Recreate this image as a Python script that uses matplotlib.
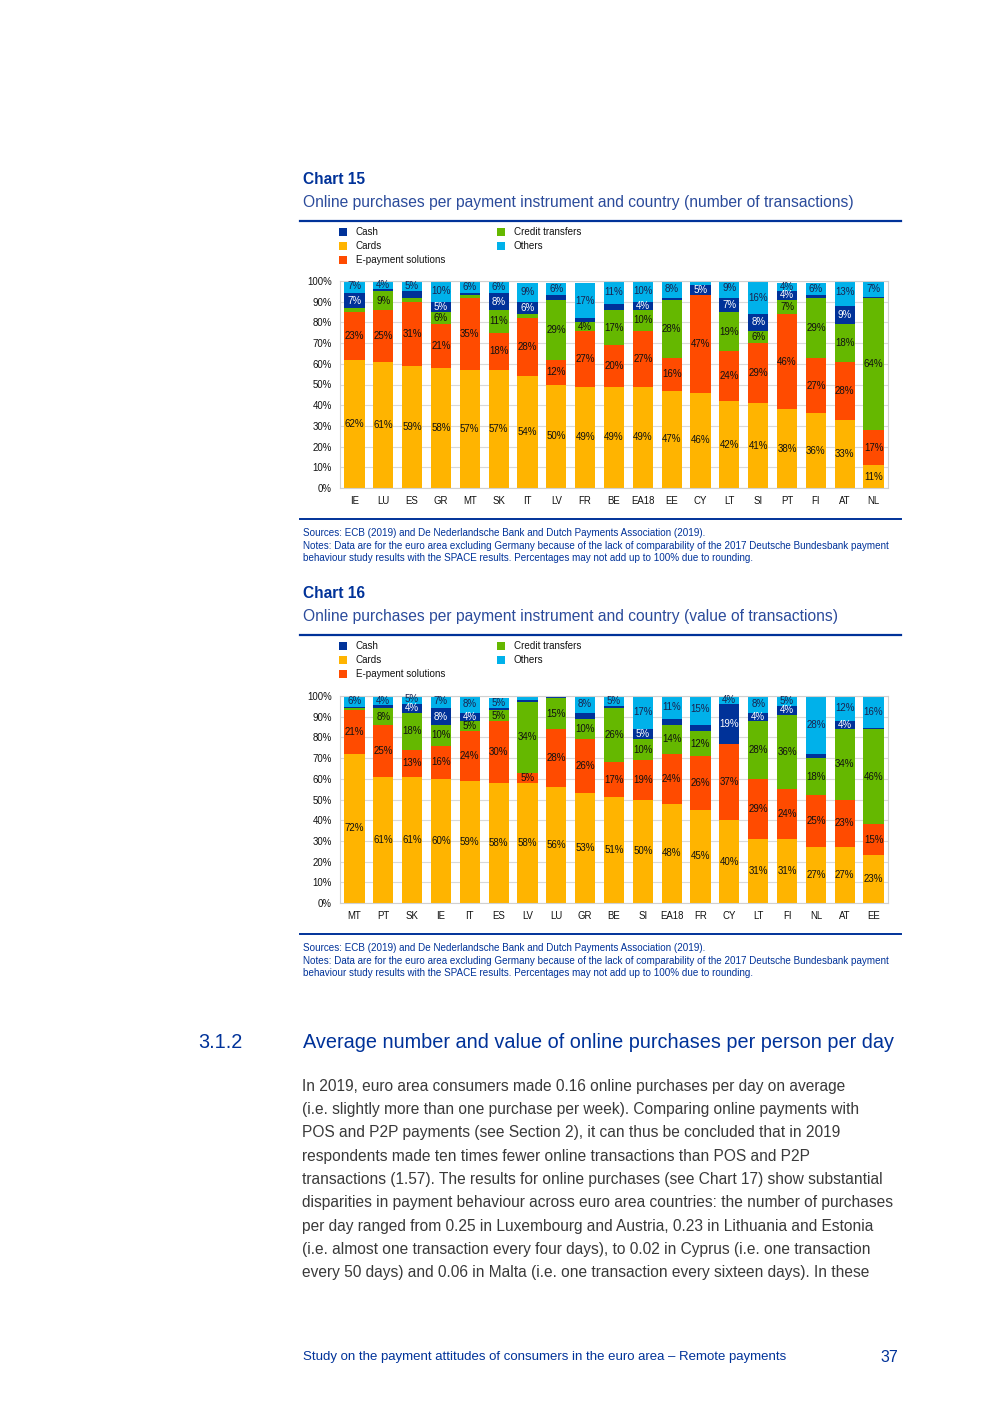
import matplotlib
matplotlib.use("Agg")
import matplotlib.pyplot as plt
from matplotlib.patches import Rectangle
from matplotlib.lines import Line2D
import numpy as np

plt.rcParams['font.family'] = ['Liberation Sans', 'DejaVu Sans']

W, H = 992, 1403

# ---------------- data ----------------
series = ["Cards", "E-payment solutions", "Credit transfers", "Cash", "Others"]
colors = {"Cash": "#003299", "Cards": "#FFB400", "E-payment solutions": "#FF4B00",
          "Credit transfers": "#65B800", "Others": "#00B1EA"}

c15_countries = ["IE", "LU", "ES", "GR", "MT", "SK", "IT", "LV", "FR", "BE",
                 "EA18", "EE", "CY", "LT", "SI", "PT", "FI", "AT", "NL"]
c15_cards  = [62, 61, 59, 58, 57, 57, 54, 50, 49, 49, 49, 47, 46, 42, 41, 38, 36, 33, 11]
c15_epay   = [23, 25, 31, 21, 35, 18, 28, 12, 27, 20, 27, 16, 47, 24, 29, 46, 27, 28, 17]
c15_ct     = [2, 9, 2, 6, 1, 11, 2, 29, 4, 17, 10, 28, 0, 19, 6, 7, 29, 18, 64]
c15_cash   = [7, 1, 3, 5, 1, 8, 6, 2, 2, 3, 4, 1, 5, 7, 8, 4, 1, 9, 0.5]
c15_others = [7, 4, 5, 10, 6, 6, 9, 6, 17, 11, 10, 8, 2, 9, 16, 4, 6, 13, 7]

c16_countries = ["MT", "PT", "SK", "IE", "IT", "ES", "LV", "LU", "GR", "BE",
                 "SI", "EA18", "FR", "CY", "LT", "FI", "NL", "AT", "EE"]
c16_cards  = [72, 61, 61, 60, 59, 58, 58, 56, 53, 51, 50, 48, 45, 40, 31, 31, 27, 27, 23]
c16_epay   = [21, 25, 13, 16, 24, 30, 5, 28, 26, 17, 19, 24, 26, 37, 29, 24, 25, 23, 15]
c16_ct     = [1, 8, 18, 10, 5, 5, 34, 15, 10, 26, 10, 14, 12, 0, 28, 36, 18, 34, 46]
c16_cash   = [0.5, 1.5, 4, 8, 4, 1, 1, 0.5, 3, 1, 5, 3, 3, 19, 4, 4, 2, 4, 0.5]
c16_others = [6, 4, 5, 7, 8, 5, 3, 1.5, 8, 5, 17, 11, 15, 4, 8, 5, 28, 12, 16]

yticks = [0, 10, 20, 30, 40, 50, 60, 70, 80, 90, 100]
ytick_labels = [f"{v}%" for v in yticks]

navy = "#003299"
sub_blue = "#2b4b9b"
text_dark = "#3a3a3a"

fig = plt.figure(figsize=(W / 100, H / 100), dpi=100)


def fx(x):
    return x / W


def fy(y):
    return 1 - y / H


def ftext(x, y, s, **kw):
    fig.text(fx(x), fy(y), s, **kw)


def hline(x0, x1, y, lw=1.6, color=navy):
    fig.add_artist(Line2D([fx(x0), fx(x1)], [fy(y), fy(y)], lw=lw, color=color,
                          transform=fig.transFigure))


def legend_block(ytop):
    items = [("Cash", 343, ytop), ("Cards", 343, ytop + 14),
             ("E-payment solutions", 343, ytop + 28),
             ("Credit transfers", 501, ytop), ("Others", 501, ytop + 14)]
    for name, x, y in items:
        fig.add_artist(Rectangle((fx(x - 4), fy(y + 4)), 8 / W, 8 / H,
                                 transform=fig.transFigure, color=colors[name], lw=0))
        ftext(x + 13, y, name, fontsize=7.1, va='center', ha='left', color='#111111')


def stacked(ax, countries, data):
    x = np.arange(len(countries))
    bottom = np.zeros(len(countries))
    for name in series:
        vals = np.array(data[name], dtype=float)
        ax.bar(x, vals, bottom=bottom, width=0.7, color=colors[name], lw=0, zorder=2)
        for xi, v, b in zip(x, vals, bottom):
            if v >= 4:
                if name == "Cash":
                    c = "white"
                elif name == "Others":
                    c = "#1a2350"
                else:
                    c = "#111111"
                ax.text(xi, b + v / 2, f"{int(round(v))}%", ha='center', va='center',
                        fontsize=7.0, color=c, zorder=3)
        bottom += vals
    ax.set_xlim(-0.5, len(countries) - 0.5)
    ax.set_ylim(0, 100)
    ax.set_yticks(yticks)
    ax.set_yticklabels(ytick_labels)
    ax.set_xticks(x)
    ax.set_xticklabels(countries)
    ax.tick_params(axis='both', length=0, labelsize=6.9, colors='#111111')
    ax.tick_params(axis='x', pad=6)
    ax.tick_params(axis='y', pad=6)
    ax.grid(axis='y', color='#d9d9d9', lw=0.8, zorder=0)
    ax.grid(axis='x', visible=False)
    for sp in ax.spines.values():
        sp.set_color('#d0d0d0')
        sp.set_linewidth(0.8)
    ax.set_axisbelow(True)


def chart_block(ytitle, number, subtitle, countries, data, ax_top, ax_bot):
    ftext(303, ytitle, f"Chart {number}", fontsize=11.2, fontweight='bold', color=navy,
          va='center', ha='left')
    ftext(303, ytitle + 23, subtitle, fontsize=11.25, color=sub_blue, va='center', ha='left')
    hline(300, 901, ytitle + 41)
    legend_block(ytitle + 52)
    ax = fig.add_axes([fx(340), fy(ax_bot), (888 - 340) / W, (ax_bot - ax_top) / H])
    stacked(ax, countries, data)
    ybase = ax_bot + 31
    hline(300, 901, ybase, lw=1.4)
    ftext(303, ybase + 14, "Sources: ECB (2019) and De Nederlandsche Bank and Dutch Payments Association (2019).",
          fontsize=7.15, color=navy, va='center', ha='left')
    ftext(303, ybase + 27, "Notes: Data are for the euro area excluding Germany because of the lack of comparability of the 2017 Deutsche Bundesbank payment",
          fontsize=7.15, color=navy, va='center', ha='left')
    ftext(303, ybase + 39, "behaviour study results with the SPACE results. Percentages may not add up to 100% due to rounding.",
          fontsize=7.15, color=navy, va='center', ha='left')


chart_block(180, 15, "Online purchases per payment instrument and country (number of transactions)",
            c15_countries,
            {"Cards": c15_cards, "E-payment solutions": c15_epay, "Credit transfers": c15_ct,
             "Cash": c15_cash, "Others": c15_others}, 281, 488)

chart_block(594, 16, "Online purchases per payment instrument and country (value of transactions)",
            c16_countries,
            {"Cards": c16_cards, "E-payment solutions": c16_epay, "Credit transfers": c16_ct,
             "Cash": c16_cash, "Others": c16_others}, 696, 903)

# section heading
ftext(198, 1043, "3.1.2", fontsize=14.3, color=navy, va='center', ha='left')
ftext(303, 1043, "Average number and value of online purchases per person per day",
      fontsize=14.3, color=navy, va='center', ha='left')

body = [
    "In 2019, euro area consumers made 0.16 online purchases per day on average",
    "(i.e. slightly more than one purchase per week). Comparing online payments with",
    "POS and P2P payments (see Section 2), it can thus be concluded that in 2019",
    "respondents made ten times fewer online transactions than POS and P2P",
    "transactions (1.57). The results for online purchases (see Chart 17) show substantial",
    "disparities in payment behaviour across euro area countries: the number of purchases",
    "per day ranged from 0.25 in Luxembourg and Austria, 0.23 in Lithuania and Estonia",
    "(i.e. almost one transaction every four days), to 0.02 in Cyprus (i.e. one transaction",
    "every 50 days) and 0.06 in Malta (i.e. one transaction every sixteen days). In these",
]
for i, line in enumerate(body):
    ftext(302, 1086 + i * 23.35, line, fontsize=11.2, color=text_dark, va='center', ha='left')

ftext(303, 1357, "Study on the payment attitudes of consumers in the euro area \u2013 Remote payments",
      fontsize=9.55, color=navy, va='center', ha='left')
ftext(898, 1357, "37", fontsize=11.5, color=navy, va='center', ha='right')

fig.savefig("out.png", dpi=100)
